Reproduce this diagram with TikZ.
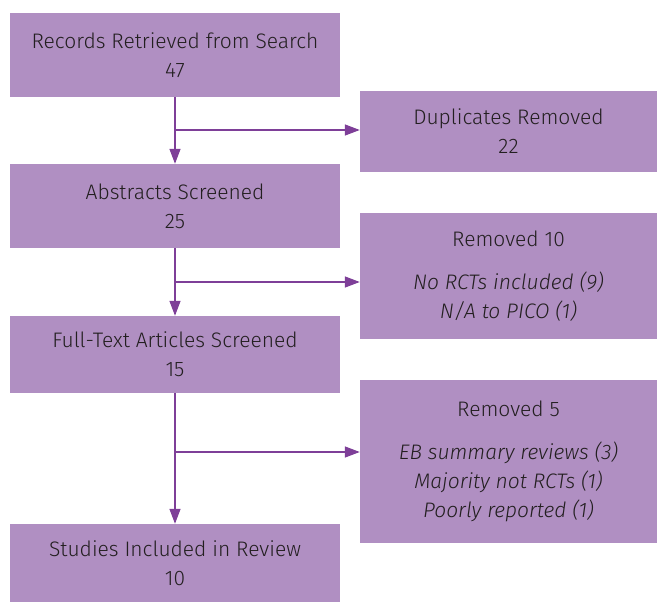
\documentclass[tikz,border=0pt]{standalone}
\usepackage{fontspec}
\setmainfont{Fira Sans Light}[ItalicFont={Fira Sans Light Italic}]
\usetikzlibrary{arrows.meta}
\definecolor{boxfill}{HTML}{B08FC2}
\definecolor{arrowc}{HTML}{7E3F98}
\definecolor{txt}{HTML}{231F20}
\begin{document}
\begin{tikzpicture}[x=1pt,y=-1pt,
  box/.style={fill=boxfill,draw=none,text=txt,align=center,inner sep=0pt,
    font=\fontsize{21}{29}\selectfont},
  arr/.style={draw=arrowc,line width=1.4pt,-{Triangle[length=15pt,width=11pt]}},
  ln/.style={draw=arrowc,line width=1.4pt}]
\useasboundingbox (0,0) rectangle (657,602);
% left boxes
\node[box,minimum width=330pt,minimum height=84pt] (rec) at (175,55) {Records Retrieved from Search\\47};
\node[box,minimum width=330pt,minimum height=84pt] (abs) at (175,206) {Abstracts Screened\\25};
\node[box,minimum width=330pt,minimum height=77pt] (full) at (175,354.5) {Full-Text Articles Screened\\15};
\node[box,minimum width=330pt,minimum height=78pt] (inc) at (175,563) {Studies Included in Review\\10};
% right boxes
\node[box,minimum width=297pt,minimum height=81pt] (dup) at (508.5,131.5) {Duplicates Removed\\22};
\node[box,minimum width=297pt,minimum height=126pt] (r10) at (508.5,276) {Removed 10\\[14pt]\itshape No RCTs included (9)\\\itshape N/A to PICO (1)};
\node[box,minimum width=297pt,minimum height=163pt] (r5) at (508.5,461.5) {Removed 5\\[14pt]\itshape EB summary reviews (3)\\\itshape Majority not RCTs (1)\\\itshape Poorly reported (1)};
% branch points
\coordinate (b1) at (175,130);
\coordinate (b2) at (175,282);
\coordinate (b3) at (175,452);
% connectors
\draw[arr] (rec.south) -- (abs.north);
\draw[arr] (abs.south) -- (full.north);
\draw[arr] (full.south) -- (inc.north);
\draw[arr] (b1) -- (b1 -| dup.west);
\draw[arr] (b2) -- (b2 -| r10.west);
\draw[arr] (b3) -- (b3 -| r5.west);
\end{tikzpicture}
\end{document}
